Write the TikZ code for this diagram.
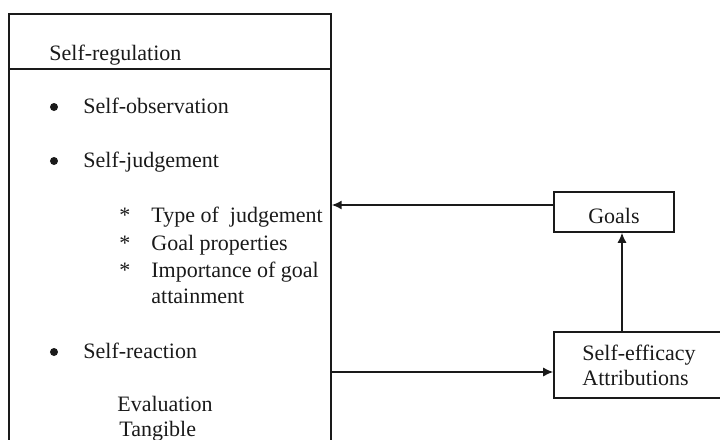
\documentclass[tikz,border=0pt]{standalone}
\usepackage{fontspec}
\setmainfont{Liberation Serif}
\usetikzlibrary{arrows.meta}
\definecolor{ink}{HTML}{1A1A1A}
\tikzset{
  every node/.style={text=ink, font=\fontsize{11}{13}\selectfont},
  box/.style={draw=ink, line width=0.75pt, inner sep=0pt},
  txt/.style={anchor=base west, inner sep=0pt},
  dot/.style={circle, fill=ink, minimum size=4pt, inner sep=0pt},
  arr/.style={draw=ink, line width=0.75pt, -{Latex[length=5pt,width=4.5pt]}},
}
\begin{document}
\begin{tikzpicture}[x=0.5pt,y=-0.5pt]
\useasboundingbox (0,0) rectangle (720,440);
\clip (0,0) rectangle (720,440);
% main box
\node[box, minimum width=161pt, minimum height=223pt] (main) at (170,237) {};
\draw[draw=ink, line width=0.75pt] (main.west |- 0,69) coordinate (hl) -- (hl -| main.east);
\node[txt] (title) at (49,60) {Self-regulation};
\node[dot] (b1) at (54,107) {};
\node[txt] (t1) at (83,113) {Self-observation};
\node[dot] (b2) at (54,161) {};
\node[txt] (t2) at (83,167) {Self-judgement};
\node[txt] (s1) at (119,222) {*};
\node[txt] (u1) at (151,222) {Type of\ \ judgement};
\node[txt] (s2) at (119,250) {*};
\node[txt] (u2) at (151,250) {Goal properties};
\node[txt] (s3) at (119,277) {*};
\node[txt] (u3) at (151,277) {Importance of goal};
\node[txt] (u4) at (151,303) {attainment};
\node[dot] (b3) at (54,352) {};
\node[txt] (t3) at (83,358) {Self-reaction};
\node[txt] (e1) at (117,411) {Evaluation};
\node[txt] (e2) at (119,436) {Tangible};
% goals
\node[box, minimum width=60pt, minimum height=20pt] (goals) at (614,212) {};
\node[anchor=base, inner sep=0pt] (gt) at (614,223) {Goals};
% self-efficacy
\node[box, minimum width=103pt, minimum height=33pt] (se) at (657,365) {};
\node[txt] (se1) at (582,360) {Self-efficacy};
\node[txt] (se2) at (582,385) {Attributions};
% connectors
\coordinate (ga) at ([yshift=3.5pt]goals.west);
\draw[arr] (ga) -- (ga -| main.east);
\coordinate (sa) at ([yshift=-3.5pt]se.west);
\draw[arr] (sa -| main.east) -- (sa);
\coordinate (va) at (622,332);
\draw[arr] (va) -- (va |- goals.south);
\end{tikzpicture}
\end{document}
